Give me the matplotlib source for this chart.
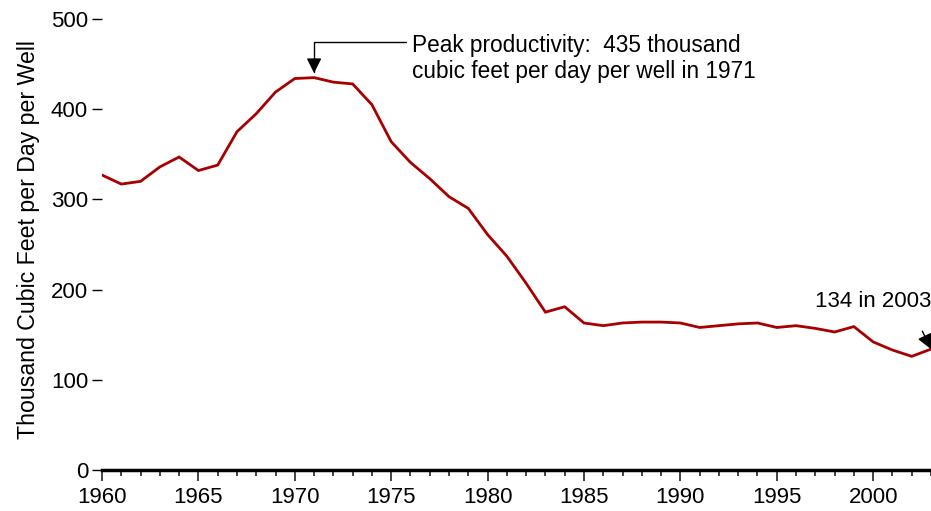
import matplotlib
matplotlib.use('Agg')
import matplotlib.pyplot as plt
from matplotlib.ticker import MultipleLocator

plt.rcParams['font.family'] = ['Liberation Sans', 'DejaVu Sans']

# productivity per gas well, thousand cubic feet per day
years = list(range(1960, 2004))
productivity = [327, 317, 320, 336, 347, 332, 338, 375, 395, 419,
                434, 435, 430, 428, 405, 364, 341, 323, 303, 290,
                261, 237, 207, 175, 181, 163, 160, 163, 164, 164,
                163, 158, 160, 162, 163, 158, 160, 157, 153, 159,
                142, 133, 126, 134]
y_ticks = [0, 100, 200, 300, 400, 500]
x_ticks = [1960, 1965, 1970, 1975, 1980, 1985, 1990, 1995, 2000]

fs = 16

fig = plt.figure(figsize=(9.31, 5.11), dpi=100)
ax = fig.add_axes([102 / 931, 1 - 470 / 511, 1 - 102 / 931, 451 / 511])

ax.plot(years, productivity, color='#a80000', lw=2, solid_joinstyle='miter')

ax.set_xlim(1960, 2003)
ax.set_ylim(0, 500)

for s in ['left', 'right', 'top']:
    ax.spines[s].set_visible(False)
ax.spines['bottom'].set_linewidth(2.5)

ax.set_xticks(x_ticks)
ax.xaxis.set_minor_locator(MultipleLocator(1))
ax.set_yticks(y_ticks)
ax.tick_params(axis='x', which='major', length=8, width=1.4, color='#444444',
               labelsize=fs, pad=4)
ax.tick_params(axis='x', which='minor', length=4.5, width=1.2, color='#222222')
ax.tick_params(axis='y', length=7, width=1, labelsize=fs, pad=3)

ax.set_ylabel('Thousand Cubic Feet per Day per Well', fontsize=16.7)
ax.yaxis.set_label_coords(-0.075, 0.51)

# peak annotation
ax.annotate('', xy=(1971, 440), xytext=(1975.75, 474.5),
            arrowprops=dict(arrowstyle='-|>,head_length=0.9,head_width=0.45',
                            connectionstyle='angle,angleA=0,angleB=90,rad=0',
                            color='black', lw=1, shrinkA=0, shrinkB=0))
ax.text(1976.1, 456, 'Peak productivity:  435 thousand\ncubic feet per day per well in 1971',
        fontsize=16.3, ha='left', va='center', linespacing=1.2)

# last value annotation
ax.text(2003, 187, '134 in 2003', fontsize=fs, ha='right', va='center')
ax.annotate('', xy=(2003, 134), xytext=(2002.55, 154),
            arrowprops=dict(arrowstyle='-|>,head_length=0.9,head_width=0.45',
                            color='black', lw=1, shrinkA=0, shrinkB=0),
            annotation_clip=False)

fig.savefig('out.png', dpi=100)
